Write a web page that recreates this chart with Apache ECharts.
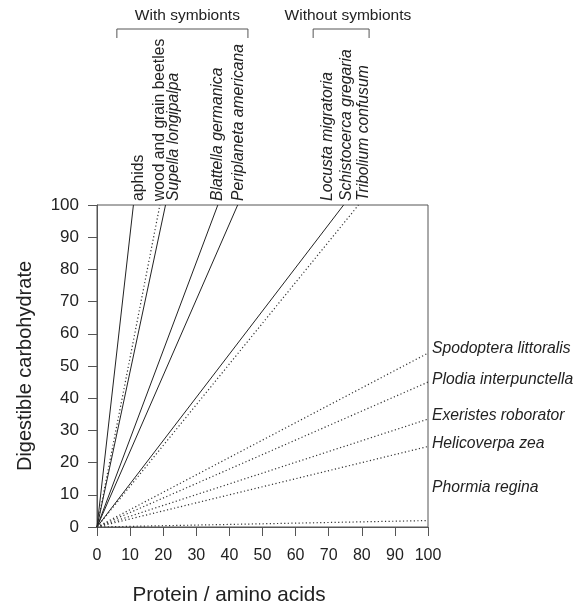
<!DOCTYPE html>
<html><head><meta charset="utf-8">
<script src="https://cdn.jsdelivr.net/npm/echarts@6/dist/echarts.min.js"></script>
<style>html,body{margin:0;padding:0;background:#fff}#c{width:573px;height:606px}</style>
</head><body><div id="c"></div>
<script>
// ---- data ----
const axisTicks = [0, 10, 20, 30, 40, 50, 60, 70, 80, 90, 100];
const lineIds = ['aphids', 'wood and grain beetles', 'Supella longipalpa', 'Blattella germanica',
  'Periplaneta americana', 'Locusta / Schistocerca', 'Tribolium confusum', 'Spodoptera littoralis',
  'Plodia interpunctella', 'Exeristes roborator', 'Helicoverpa zea', 'Phormia regina'];
const endProtein = [11, 19, 20.7, 36.5, 42.5, 74.5, 79, 100, 100, 100, 100, 100];
const endCarb = [100, 100, 100, 100, 100, 100, 100, 54, 45, 33.5, 25, 2];
const topLabels = ['aphids', 'wood and grain beetles', 'Supella longipalpa', 'Blattella germanica',
  'Periplaneta americana', 'Locusta migratoria', 'Schistocerca gregaria', 'Tribolium confusum'];
const rightLabels = ['Spodoptera littoralis', 'Plodia interpunctella', 'Exeristes roborator', 'Helicoverpa zea', 'Phormia regina'];
const groupTitles = ['With symbionts', 'Without symbionts'];

// ---- positions / styles (kept separate) ----
const lineDotted = [false, true, false, false, false, false, true, true, true, true, true, true];
const topLabelX = [12.5, 19.0, 23.3, 36.3, 42.9, 69.8, 75.5, 80.7];
const topLabelItalic = [false, false, true, true, true, true, true, true];
const rightLabelY = [55.3, 45.7, 34.5, 26, 12.1];
const bracketX = [[6.0, 45.6], [65.3, 82.2]];
const titleX = [27.3, 75.8];

const FONT = '"Liberation Sans", Arial, sans-serif';
const INK = '#222';
const AX = '#555';

const chart = echarts.init(document.getElementById('c'), null, {renderer: 'canvas'});

const series = lineIds.map((n, i) => ({
  type: 'line', name: n, showSymbol: false, silent: true, animation: false,
  data: [[0, 0], [endProtein[i], endCarb[i]]],
  lineStyle: {color: lineDotted[i] ? '#333' : '#222', width: lineDotted[i] ? 1.2 : 1,
    type: lineDotted[i] ? [1.2, 2.4] : 'solid'}
}));

const axisCommon = {
  type: 'value', min: 0, max: 100, interval: 10,
  axisLine: {show: true, lineStyle: {color: AX, width: 1}},
  axisTick: {show: true, inside: false, length: 9, lineStyle: {color: AX}},
  splitLine: {show: false}
};

chart.setOption({
  animation: false,
  backgroundColor: '#fff',
  grid: {left: 97, right: 145, top: 205, bottom: 79, show: true, borderColor: AX, borderWidth: 1},
  xAxis: Object.assign({}, axisCommon, {axisLabel: {color: INK, fontFamily: FONT, fontSize: 16, margin: 21,
    formatter: v => axisTicks.includes(v) ? String(v) : ''}}),
  yAxis: Object.assign({}, axisCommon, {axisLabel: {color: INK, fontFamily: FONT, fontSize: 17, margin: 18,
    formatter: v => axisTicks.includes(v) ? String(v) : ''},
    name: 'Digestible carbohydrate', nameLocation: 'middle', nameRotate: 90, nameGap: 62,
    nameTextStyle: {color: INK, fontFamily: FONT, fontSize: 20}}),
  series: series
});

const P = (x, y) => chart.convertToPixel({gridIndex: 0}, [x, y]);
const g = [];
const top0 = P(0, 100)[1];
topLabels.forEach((t, i) => {
  const p = P(topLabelX[i], 100);
  g.push({type: 'text', x: p[0], y: top0 - 4, rotation: Math.PI / 2,
    style: {text: t, fill: INK, font: (topLabelItalic[i] ? 'italic ' : '') + '15.7px ' + FONT,
      align: 'left', verticalAlign: 'middle'}});
});
rightLabels.forEach((t, i) => {
  const p = P(100, rightLabelY[i]);
  g.push({type: 'text', x: p[0] + 4, y: p[1],
    style: {text: t, fill: INK, font: 'italic 15.7px ' + FONT, align: 'left', verticalAlign: 'middle'}});
});
bracketX.forEach((b, i) => {
  const a = P(b[0], 100)[0], c = P(b[1], 100)[0];
  const yb = top0 - 176;
  g.push({type: 'polyline', shape: {points: [[a, yb + 9], [a, yb], [c, yb], [c, yb + 9]]},
    style: {stroke: AX, lineWidth: 1, fill: null}});
  g.push({type: 'text', x: P(titleX[i], 100)[0], y: yb - 13,
    style: {text: groupTitles[i], fill: INK, font: '15.5px ' + FONT, align: 'center', verticalAlign: 'middle'}});
});
g.push({type: 'text', x: 229, y: 595,
  style: {text: 'Protein / amino acids', fill: INK, font: '20.7px ' + FONT, align: 'center', verticalAlign: 'middle'}});
chart.setOption({graphic: g});
</script></body></html>
